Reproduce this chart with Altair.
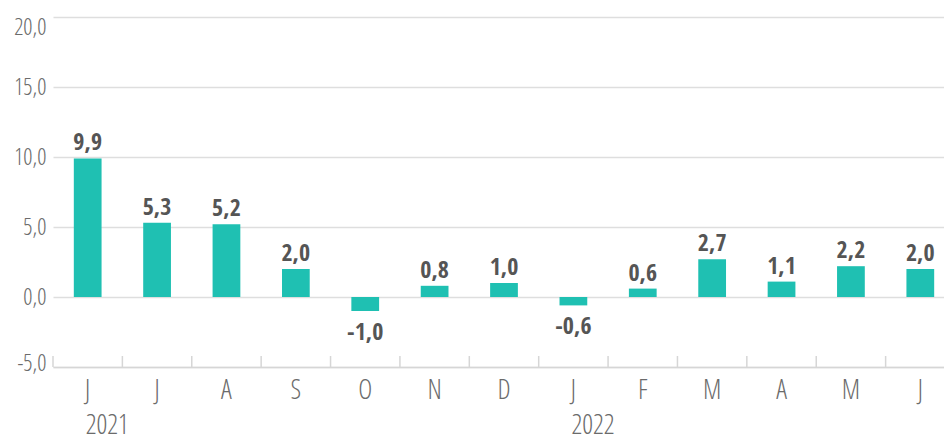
import altair as alt
import pandas as pd

periods = ["2021-06", "2021-07", "2021-08", "2021-09", "2021-10", "2021-11", "2021-12",
           "2022-01", "2022-02", "2022-03", "2022-04", "2022-05", "2022-06"]
months = ["J", "J", "A", "S", "O", "N", "D", "J", "F", "M", "A", "M", "J"]
values = [9.9, 5.3, 5.2, 2.0, -1.0, 0.8, 1.0, -0.6, 0.6, 2.7, 1.1, 2.2, 2.0]
years = ["2021", "2022"]
year_starts = ["2021-06", "2022-01"]
y_ticks = [-5, 0, 5, 10, 15, 20]

df = pd.DataFrame({"period": periods, "month": months, "value": values})
ydf = pd.DataFrame({"period": year_starts, "year": years})

LIGHT = "Open Sans Condensed Light, Open Sans Condensed, Fira Sans Extra Condensed, Asap Condensed, DejaVu Sans Condensed, sans-serif"
BOLD = "Open Sans Condensed, Fira Sans Extra Condensed, Asap Condensed, DejaVu Sans Condensed, sans-serif"
H = 350
W = 902
GRAY = "#6b6b6b"

xscale = alt.Scale(domain=periods, paddingInner=0, paddingOuter=0)
yscale = alt.Scale(domain=[-5, 20], nice=False)
month_expr = "substring('JFMAMJJASOND', toNumber(substring(datum.label, 5, 7)) - 1, toNumber(substring(datum.label, 5, 7)))"
fmt = "replace(replace(format(datum.value, '.1f'), '.', ','), '\u2212', '-')"

base = alt.Chart(df)

bars = base.mark_bar(color="#1FC0B2", width=alt.RelativeBandSize(0.4)).encode(
    x=alt.X("period:N", scale=xscale, sort=periods, title=None,
            axis=alt.Axis(labelExpr=month_expr, labelAngle=0, ticks=False,
                          labelPadding=31, labelBaseline="alphabetic", labelFontSize=27,
                          labelFontWeight=300, labelColor=GRAY, labelFont=LIGHT,
                          domainColor="#d6d6d6", domainWidth=1.5, grid=False)),
    y=alt.Y("value:Q", scale=yscale, title=None,
            axis=alt.Axis(values=y_ticks,
                          labelExpr="replace(replace(format(datum.value, '.1f'), '.', ','), '\u2212', '-')",
                          labelOffset=alt.ExprRef(expr="datum.value == 20 ? 10 : (datum.value == -5 ? -4 : 0)"),
                          ticks=False, domain=False, labelPadding=7, labelFontSize=23,
                          labelFontWeight=300, labelColor=GRAY, labelFont=LIGHT,
                          gridColor="#dedede", gridWidth=1.3)),
)

labels_pos = base.transform_filter("datum.value >= 0").transform_calculate(
    lab=fmt
).mark_text(font=BOLD, fontWeight="bold", fontSize=24, color="#555555",
            baseline="alphabetic", dy=-8).encode(
    x=alt.X("period:N", scale=xscale, sort=periods),
    y=alt.Y("value:Q", scale=yscale),
    text="lab:N",
)

labels_neg = base.transform_filter("datum.value < 0").transform_calculate(
    lab=fmt
).mark_text(font=BOLD, fontWeight="bold", fontSize=24, color="#555555",
            baseline="alphabetic", dy=29).encode(
    x=alt.X("period:N", scale=xscale, sort=periods),
    y=alt.Y("value:Q", scale=yscale),
    text="lab:N",
)

ticks = base.mark_rule(color="#d6d6d6", strokeWidth=1.5).encode(
    x=alt.X("period:N", scale=xscale, sort=periods, bandPosition=0),
    y=alt.value(H),
    y2=alt.value(H - 11),
)

year_text = alt.Chart(ydf).mark_text(font=LIGHT, fontWeight=300, fontSize=27, color=GRAY,
                                     align="left", baseline="alphabetic", dx=-2).encode(
    x=alt.X("period:N", scale=xscale, sort=periods),
    y=alt.value(H + 67),
    text="year:N",
)

chart = alt.layer(bars, ticks, labels_pos, labels_neg, year_text).properties(
    width=W, height=H,
    autosize=alt.AutoSizeParams(type="none"),
    padding={"left": 45, "top": 9, "right": -11, "bottom": 82},
).configure_view(stroke=None)

chart.save("out.html", embed_options={"renderer": "svg", "actions": False})
